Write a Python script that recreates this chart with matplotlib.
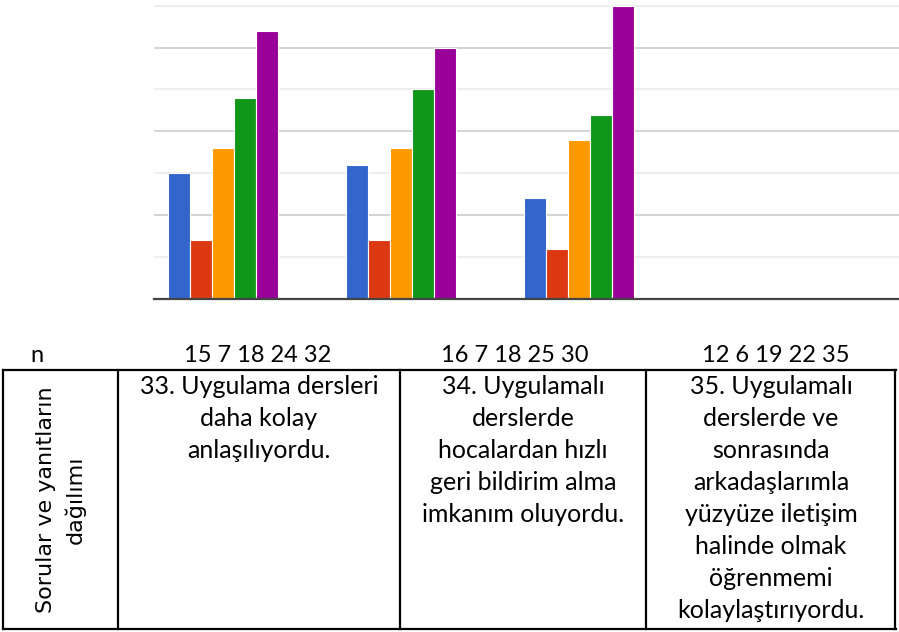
import numpy as np
import matplotlib.pyplot as plt
from matplotlib.ticker import MultipleLocator

# veriler
groups = ['33', '34', '35']
vals_1 = [15, 7, 18, 24, 32]
vals_2 = [16, 7, 18, 25, 30]
vals_3 = [12, 6, 19, 22, 35]
colors = ['#3366cc', '#dc3912', '#ff9900', '#109618', '#990099']
questions = [
    '33. Uygulama dersleri\ndaha kolay\nanlaşılıyordu.',
    '34. Uygulamalı\nderslerde\nhocalardan hızlı\ngeri bildirim alma\nimkanım oluyordu.',
    '35. Uygulamalı\nderslerde ve\nsonrasında\narkadaşlarımla\nyüzyüze iletişim\nhalinde olmak\nöğrenmemi\nkolaylaştırıyordu.',
]
side_label = 'Sorular ve yanıtların\ndağılımı'

W, H = 899, 632
fig = plt.figure(figsize=(W / 100, H / 100), dpi=100)

# grafik
ax = fig.add_axes([153.7 / W, 1 - 299 / H, 1 - 153.7 / W, 299 / H])
data = np.array([vals_1, vals_2, vals_3])
x = np.arange(len(groups))
w = 22 / 178
for i in range(data.shape[1]):
    ax.bar(x + (i - 2) * w, data[:, i], width=w, color=colors[i],
           edgecolor='white', linewidth=0.8, zorder=3)

ax.set_xlim(-0.388, 3.80)
ax.set_ylim(0, 35.68)
ax.yaxis.set_major_locator(MultipleLocator(10))
ax.yaxis.set_minor_locator(MultipleLocator(5))
ax.grid(True, which='major', axis='y', color='#cccccc', linewidth=1.2, zorder=0)
ax.grid(True, which='minor', axis='y', color='#ebebeb', linewidth=1.2, zorder=0)
ax.tick_params(which='both', left=False, bottom=False, labelleft=False, labelbottom=False)
for s in ['top', 'right', 'left']:
    ax.spines[s].set_visible(False)
ax.spines['bottom'].set_color('#444444')
ax.spines['bottom'].set_linewidth(1.6)
ax.spines['bottom'].set_zorder(5)

# tablo (piksel koordinatlari)
tb = fig.add_axes([0, 0, 1, 1], zorder=-1)
tb.set_xlim(0, W)
tb.set_ylim(H, 0)
tb.axis('off')

cell_font = ['Lato', 'DejaVu Sans']
tb.text(37, 356, 'n', ha='center', va='center', fontsize=17, family=cell_font)
for cx, v in zip([258, 515, 776], [vals_1, vals_2, vals_3]):
    tb.text(cx, 356, ' '.join(str(n) for n in v), ha='center', va='center',
            fontsize=17, family=cell_font)

lw = 1.6
tb.plot([3, 896], [370, 370], color='black', lw=lw)
tb.plot([3, 896], [629, 629], color='black', lw=lw)
for xv in [3, 118, 400, 646, 895]:
    tb.plot([xv, xv], [370, 629], color='black', lw=lw)

for cx, q in zip([259, 523, 771], questions):
    tb.text(cx, 375, q, ha='center', va='top', fontsize=18, family=cell_font,
            linespacing=1.47)

tb.text(61, 500, side_label, ha='center', va='center', rotation=90,
        fontsize=16, linespacing=1.45, family='DejaVu Sans')

fig.savefig('out.png', dpi=100)
